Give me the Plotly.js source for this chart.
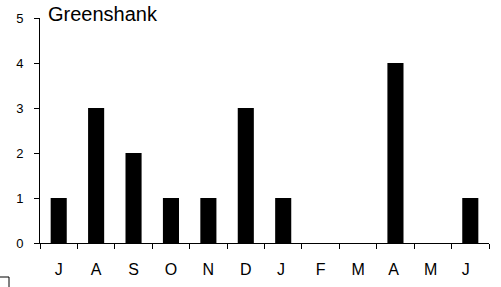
<!DOCTYPE html>
<html><head><meta charset="utf-8">
<script src="https://cdn.plot.ly/plotly-3.0.1.min.js"></script>
<style>html,body{margin:0;padding:0;background:#fff}#c{width:501px;height:287px}</style>
</head><body><div id="c"></div>
<script>
const months = ['J','A','S','O','N','D','J ','F','M','A ','M ','J  '];
const counts = [1,3,2,1,1,3,1,0,0,4,0,1];
const yTicks = [0,1,2,3,4,5];
const chartTitle = 'Greenshank';

Plotly.newPlot('c', [{
  type: 'bar', x: months, y: counts,
  marker: {color: '#000', line: {width: 0}},
  hoverinfo: 'none'
}], {
  width: 501, height: 287,
  margin: {l: 40, r: 12, t: 18, b: 44},
  paper_bgcolor: '#fff', plot_bgcolor: '#fff',
  bargap: 0.57,
  showlegend: false,
  font: {family: 'Liberation Sans, Arial, sans-serif', color: '#000'},
  xaxis: {
    type: 'category', showline: true, linecolor: '#000', linewidth: 1,
    ticks: 'outside', tickson: 'boundaries', ticklen: 5, tickcolor: '#000',
    showgrid: false, zeroline: false, tickfont: {size: 16}, fixedrange: true,
    ticklabelstandoff: 12
  },
  yaxis: {
    range: [0, 5], tickvals: yTicks, showline: true, linecolor: '#000', linewidth: 1,
    ticks: 'outside', ticklen: 5, tickcolor: '#000', showgrid: false, zeroline: false,
    tickfont: {size: 13}, fixedrange: true, ticklabelstandoff: 8
  },
  annotations: [{
    text: chartTitle, xref: 'paper', yref: 'paper', x: 6/449, y: 1.0 + 4/225,
    xanchor: 'left', yanchor: 'middle', showarrow: false,
    font: {size: 20, color: '#000'}
  }],
  shapes: [
    {type: 'line', xref: 'paper', yref: 'paper', x0: -40/449, x1: -31/449, y0: -34/225, y1: -34/225, line: {color: '#000', width: 1}},
    {type: 'line', xref: 'paper', yref: 'paper', x0: -31/449, x1: -31/449, y0: -34/225, y1: -44/225, line: {color: '#000', width: 1}}
  ]
}, {displayModeBar: false, staticPlot: true});
</script></body></html>
